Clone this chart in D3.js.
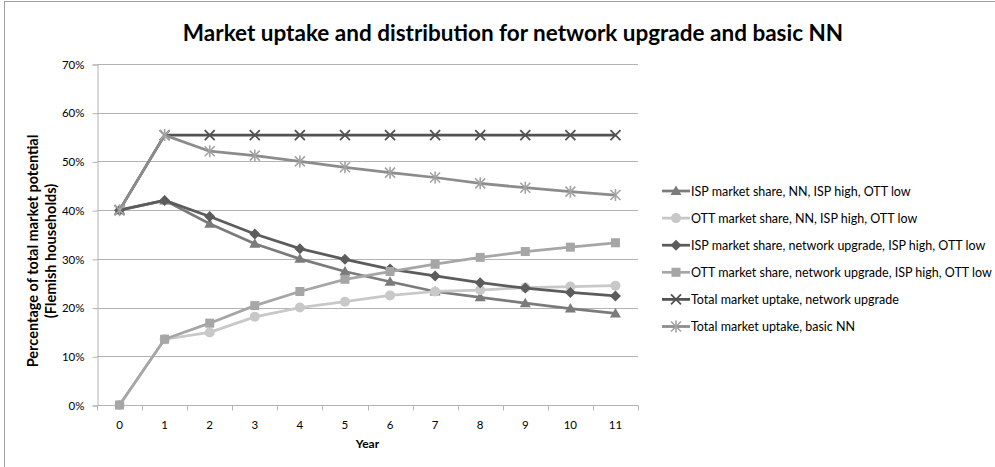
<!DOCTYPE html>
<html>
<head>
<meta charset="utf-8">
<script src="https://cdn.jsdelivr.net/npm/d3@7"></script>
<style>
  html, body { margin: 0; padding: 0; background: #fff; }
  svg { display: block; }
  text { font-family: Lato, "Open Sans", sans-serif; fill: #000; }
</style>
</head>
<body>
<svg id="chart" width="995" height="467"></svg>
<script>
// ---- data ----
const years = ["0","1","2","3","4","5","6","7","8","9","10","11"];
const yTicks = [0, 10, 20, 30, 40, 50, 60, 70];
const ispNN   = [40, 42.0, 37.2, 33.1, 30.0, 27.4, 25.3, 23.3, 22.1, 20.9, 19.8, 18.8];
const ottNN   = [0, 13.5, 14.9, 18.1, 20.0, 21.2, 22.5, 23.3, 23.6, 24.1, 24.3, 24.5];
const ispNU   = [40, 42.0, 38.7, 35.1, 32.1, 29.9, 27.9, 26.5, 25.1, 24.0, 23.1, 22.4];
const ottNU   = [0, 13.5, 16.8, 20.4, 23.3, 25.8, 27.4, 28.9, 30.3, 31.5, 32.4, 33.3];
const totalNU = [40, 55.4, 55.4, 55.4, 55.4, 55.4, 55.4, 55.4, 55.4, 55.4, 55.4, 55.4];
const basicNN = [40, 55.4, 52.1, 51.2, 50.0, 48.8, 47.7, 46.7, 45.5, 44.6, 43.8, 43.1];
const seriesNames = [
  "ISP market share, NN, ISP high, OTT low",
  "OTT market share, NN, ISP high, OTT low",
  "ISP market share, network upgrade, ISP high, OTT low",
  "OTT market share, network upgrade, ISP high, OTT low",
  "Total market uptake, network upgrade",
  "Total market uptake, basic NN"
];
const title = "Market uptake and distribution for network upgrade and basic NN";
const yTitle = ["Percentage of total market potential", "(Flemish households)"];
const xTitle = "Year";

// ---- styles ----
const series = [
  {name: seriesNames[0], values: ispNN,   color: "#7b7b7b", mcolor: "#7b7b7b", marker: "triangle"},
  {name: seriesNames[1], values: ottNN,   color: "#c8c8c8", mcolor: "#c8c8c8", marker: "circle"},
  {name: seriesNames[2], values: ispNU,   color: "#5c5c5c", mcolor: "#5c5c5c", marker: "diamond"},
  {name: seriesNames[3], values: ottNU,   color: "#a6a6a6", mcolor: "#a6a6a6", marker: "square"},
  {name: seriesNames[4], values: totalNU, color: "#525252", mcolor: "#525252", marker: "x"},
  {name: seriesNames[5], values: basicNN, color: "#8c8c8c", mcolor: "#a3a3a3", marker: "star"}
];

const svg = d3.select("#chart");
svg.append("rect").attr("x", 4.5).attr("y", 1.5).attr("width", 1100).attr("height", 600)
  .attr("fill", "none").attr("stroke", "#a0a0a0").attr("stroke-width", 1);

const pLeft = 97, pRight = 638, pTop = 64, pBottom = 405;
const x = d3.scaleBand().domain(years).range([pLeft, pRight]).padding(0);
const y = d3.scaleLinear().domain([0, 70]).range([pBottom, pTop]);

// gridlines
svg.append("g").selectAll("line").data(yTicks.filter(d => d > 0)).join("line")
  .attr("x1", pLeft).attr("x2", pRight)
  .attr("y1", d => Math.round(y(d)) + 0.5).attr("y2", d => Math.round(y(d)) + 0.5)
  .attr("stroke", "#b3b3b3").attr("stroke-width", 1);

// y axis
const yAxis = d3.axisLeft(y).tickValues(yTicks).tickFormat(d => d + "%").tickSize(5).tickPadding(8);
const gy = svg.append("g").attr("transform", `translate(${pLeft + 0.5},0.5)`).call(yAxis);
gy.select(".domain").attr("stroke", "#b3b3b3");
gy.selectAll(".tick line").attr("stroke", "#b3b3b3");
gy.selectAll("text").attr("font-size", 11.5).attr("font-family", "Lato, sans-serif").attr("fill", "#222");

// x axis: ticks between categories
const gx = svg.append("g").attr("transform", `translate(0,${pBottom + 0.5})`);
gx.append("line").attr("x1", pLeft).attr("x2", pRight).attr("stroke", "#b3b3b3");
const bounds = years.map(d => x(d)).concat([pRight]);
gx.selectAll("line.tk").data(bounds).join("line").attr("class", "tk")
  .attr("x1", d => Math.round(d) + 0.5).attr("x2", d => Math.round(d) + 0.5)
  .attr("y1", 0).attr("y2", 5).attr("stroke", "#b3b3b3");
gx.selectAll("text").data(years).join("text")
  .attr("x", d => x(d) + x.bandwidth() / 2).attr("y", 23)
  .attr("text-anchor", "middle").attr("font-size", 11.5).attr("fill", "#222")
  .text(d => d);

// axis titles
svg.append("text").attr("x", (pLeft + pRight) / 2).attr("y", 448)
  .attr("text-anchor", "middle").attr("font-size", 12).attr("font-weight", "bold").text(xTitle);
const yt = svg.append("text").attr("transform", `translate(38,251) rotate(-90)`)
  .attr("text-anchor", "middle").attr("font-size", 14.5).attr("font-weight", "bold");
yTitle.forEach((t, i) => yt.append("tspan").attr("x", 0).attr("dy", i === 0 ? 0 : 18).text(t));

// title
svg.append("text").attr("x", 513).attr("y", 41).attr("text-anchor", "middle")
  .attr("font-size", 22.5).attr("font-weight", "bold").text(title);

// markers
function drawMarker(g, type, cx, cy, color) {
  const s = 4.5;
  if (type === "triangle") {
    g.append("path").attr("d", `M${cx},${cy - 5.5}L${cx + 5.5},${cy + 4}L${cx - 5.5},${cy + 4}Z`).attr("fill", color);
  } else if (type === "circle") {
    g.append("circle").attr("cx", cx).attr("cy", cy).attr("r", 5).attr("fill", color);
  } else if (type === "diamond") {
    g.append("path").attr("d", `M${cx},${cy - 5.5}L${cx + 5.5},${cy}L${cx},${cy + 5.5}L${cx - 5.5},${cy}Z`).attr("fill", color);
  } else if (type === "square") {
    g.append("rect").attr("x", cx - s).attr("y", cy - s).attr("width", 2 * s).attr("height", 2 * s).attr("fill", color);
  } else if (type === "x") {
    g.append("path").attr("d", `M${cx - 5},${cy - 5}L${cx + 5},${cy + 5}M${cx - 5},${cy + 5}L${cx + 5},${cy - 5}`)
      .attr("stroke", color).attr("stroke-width", 1.8);
  } else if (type === "star") {
    g.append("path").attr("d", `M${cx - 5},${cy - 5}L${cx + 5},${cy + 5}M${cx - 5},${cy + 5}L${cx + 5},${cy - 5}M${cx},${cy - 6}L${cx},${cy + 6}`)
      .attr("stroke", color).attr("stroke-width", 1.6);
  }
}

const line = d3.line().x((d, i) => x(years[i]) + x.bandwidth() / 2).y(d => y(d));
series.forEach(s => {
  const g = svg.append("g");
  g.append("path").datum(s.values).attr("d", line).attr("fill", "none")
    .attr("stroke", s.color).attr("stroke-width", 2.75).attr("stroke-linejoin", "round");
  s.values.forEach((v, i) => drawMarker(g, s.marker, x(years[i]) + x.bandwidth() / 2, y(v), s.mcolor));
});

// legend
const lg = svg.append("g");
series.forEach((s, i) => {
  const ly = 191 + i * 27.1;
  lg.append("line").attr("x1", 662).attr("x2", 690).attr("y1", ly).attr("y2", ly)
    .attr("stroke", s.color).attr("stroke-width", 2.75);
  drawMarker(lg, s.marker, 676, ly, s.mcolor);
  lg.append("text").attr("x", 691).attr("y", ly + 4.5).attr("font-size", 12.5).text(s.name);
});
</script>
</body>
</html>
